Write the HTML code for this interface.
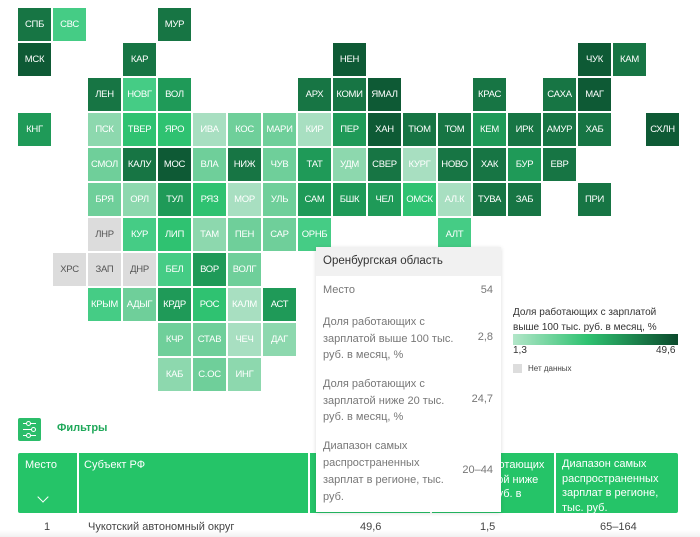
<!DOCTYPE html>
<html><head><meta charset="utf-8"><style>
body{margin:0;width:700px;height:537px;background:#fff;position:relative;overflow:hidden;font-family:"Liberation Sans","DejaVu Sans",sans-serif}
.t{position:absolute;width:33px;height:33px;color:#fff;font-size:9.5px;line-height:33px;text-align:center;letter-spacing:-0.3px}
.d1{background:#0e5a35}.d2{background:#177544}.m{background:#1f9a58}.b{background:#2fc271}.b2{background:#45cc85}
.l{background:#6fcf9a}.l2{background:#8dd8ae}.vl{background:#a8dfc1}.g{background:#dcdcdc;color:#555}
.a{position:absolute;white-space:nowrap}
.tt{font-size:11px;color:#777}
.h{color:#fff;font-size:11px;line-height:14.5px}
</style></head><body>
<div class="t d2" style="left:18px;top:8px">СПБ</div>
<div class="t b2" style="left:53px;top:8px">СВС</div>
<div class="t d2" style="left:158px;top:8px">МУР</div>
<div class="t d1" style="left:18px;top:43px">МСК</div>
<div class="t d2" style="left:123px;top:43px">КАР</div>
<div class="t d1" style="left:333px;top:43px">НЕН</div>
<div class="t d1" style="left:578px;top:43px">ЧУК</div>
<div class="t d2" style="left:613px;top:43px">КАМ</div>
<div class="t d2" style="left:88px;top:78px">ЛЕН</div>
<div class="t b2" style="left:123px;top:78px">НОВГ</div>
<div class="t m" style="left:158px;top:78px">ВОЛ</div>
<div class="t d2" style="left:298px;top:78px">АРХ</div>
<div class="t d2" style="left:333px;top:78px">КОМИ</div>
<div class="t d1" style="left:368px;top:78px">ЯМАЛ</div>
<div class="t d2" style="left:473px;top:78px">КРАС</div>
<div class="t d2" style="left:543px;top:78px">САХА</div>
<div class="t d1" style="left:578px;top:78px">МАГ</div>
<div class="t m" style="left:18px;top:113px">КНГ</div>
<div class="t l2" style="left:88px;top:113px">ПСК</div>
<div class="t b" style="left:123px;top:113px">ТВЕР</div>
<div class="t b" style="left:158px;top:113px">ЯРО</div>
<div class="t vl" style="left:193px;top:113px">ИВА</div>
<div class="t l" style="left:228px;top:113px">КОС</div>
<div class="t l" style="left:263px;top:113px">МАРИ</div>
<div class="t vl" style="left:298px;top:113px">КИР</div>
<div class="t m" style="left:333px;top:113px">ПЕР</div>
<div class="t d1" style="left:368px;top:113px">ХАН</div>
<div class="t d2" style="left:403px;top:113px">ТЮМ</div>
<div class="t d2" style="left:438px;top:113px">ТОМ</div>
<div class="t m" style="left:473px;top:113px">КЕМ</div>
<div class="t d2" style="left:508px;top:113px">ИРК</div>
<div class="t d2" style="left:543px;top:113px">АМУР</div>
<div class="t d2" style="left:578px;top:113px">ХАБ</div>
<div class="t d1" style="left:646px;top:113px">СХЛН</div>
<div class="t l" style="left:88px;top:148px">СМОЛ</div>
<div class="t d2" style="left:123px;top:148px">КАЛУ</div>
<div class="t d1" style="left:158px;top:148px">МОС</div>
<div class="t l" style="left:193px;top:148px">ВЛА</div>
<div class="t d2" style="left:228px;top:148px">НИЖ</div>
<div class="t l" style="left:263px;top:148px">ЧУВ</div>
<div class="t m" style="left:298px;top:148px">ТАТ</div>
<div class="t l2" style="left:333px;top:148px">УДМ</div>
<div class="t d2" style="left:368px;top:148px">СВЕР</div>
<div class="t vl" style="left:403px;top:148px">КУРГ</div>
<div class="t d2" style="left:438px;top:148px">НОВО</div>
<div class="t d2" style="left:473px;top:148px">ХАК</div>
<div class="t m" style="left:508px;top:148px">БУР</div>
<div class="t d2" style="left:543px;top:148px">ЕВР</div>
<div class="t l" style="left:88px;top:183px">БРЯ</div>
<div class="t l2" style="left:123px;top:183px">ОРЛ</div>
<div class="t m" style="left:158px;top:183px">ТУЛ</div>
<div class="t b" style="left:193px;top:183px">РЯЗ</div>
<div class="t vl" style="left:228px;top:183px">МОР</div>
<div class="t l" style="left:263px;top:183px">УЛЬ</div>
<div class="t m" style="left:298px;top:183px">САМ</div>
<div class="t m" style="left:333px;top:183px">БШК</div>
<div class="t m" style="left:368px;top:183px">ЧЕЛ</div>
<div class="t b" style="left:403px;top:183px">ОМСК</div>
<div class="t vl" style="left:438px;top:183px">АЛ.К</div>
<div class="t d2" style="left:473px;top:183px">ТУВА</div>
<div class="t d2" style="left:508px;top:183px">ЗАБ</div>
<div class="t d2" style="left:578px;top:183px">ПРИ</div>
<div class="t g" style="left:88px;top:218px">ЛНР</div>
<div class="t b2" style="left:123px;top:218px">КУР</div>
<div class="t b" style="left:158px;top:218px">ЛИП</div>
<div class="t l2" style="left:193px;top:218px">ТАМ</div>
<div class="t l" style="left:228px;top:218px">ПЕН</div>
<div class="t l" style="left:263px;top:218px">САР</div>
<div class="t b2" style="left:298px;top:218px">ОРНБ</div>
<div class="t b2" style="left:438px;top:218px">АЛТ</div>
<div class="t g" style="left:53px;top:253px">ХРС</div>
<div class="t g" style="left:88px;top:253px">ЗАП</div>
<div class="t g" style="left:123px;top:253px">ДНР</div>
<div class="t b2" style="left:158px;top:253px">БЕЛ</div>
<div class="t m" style="left:193px;top:253px">ВОР</div>
<div class="t l" style="left:228px;top:253px">ВОЛГ</div>
<div class="t b2" style="left:88px;top:288px">КРЫМ</div>
<div class="t l" style="left:123px;top:288px">АДЫГ</div>
<div class="t m" style="left:158px;top:288px">КРДР</div>
<div class="t b" style="left:193px;top:288px">РОС</div>
<div class="t vl" style="left:228px;top:288px">КАЛМ</div>
<div class="t m" style="left:263px;top:288px">АСТ</div>
<div class="t l" style="left:158px;top:323px">КЧР</div>
<div class="t l" style="left:193px;top:323px">СТАВ</div>
<div class="t vl" style="left:228px;top:323px">ЧЕЧ</div>
<div class="t l2" style="left:263px;top:323px">ДАГ</div>
<div class="t l2" style="left:158px;top:358px">КАБ</div>
<div class="t l" style="left:193px;top:358px">С.ОС</div>
<div class="t l2" style="left:228px;top:358px">ИНГ</div>

<div class="a" style="left:513px;top:305px;font-size:10px;line-height:15px;color:#333">Доля работающих с зарплатой<br>выше 100 тыс. руб. в месяц, %</div>
<div class="a" style="left:513px;top:334px;width:165px;height:11px;background:linear-gradient(90deg,#b3e6c9,#2fc271 45%,#0b4a2c)"></div>
<div class="a" style="left:513px;top:345px;font-size:10px;color:#333">1,3</div>
<div class="a" style="left:656px;top:345px;font-size:10px;color:#333">49,6</div>
<div class="a" style="left:513px;top:364px;width:9px;height:9px;background:#ddd"></div>
<div class="a" style="left:528px;top:364px;font-size:8px;color:#444">Нет данных</div>

<div class="a" style="left:18px;top:418px;width:23px;height:23px;background:#2bbd6a;border-radius:2px"></div>
<div class="a" style="left:23px;top:423px;width:13px;height:1px;background:#fff"></div>
<div class="a" style="left:23px;top:429px;width:13px;height:1px;background:#fff"></div>
<div class="a" style="left:23px;top:435px;width:13px;height:1px;background:#fff"></div>
<div class="a" style="left:26px;top:421px;width:3px;height:3px;border:1px solid #fff;border-radius:50%;background:#2bbd6a"></div>
<div class="a" style="left:31px;top:427px;width:3px;height:3px;border:1px solid #fff;border-radius:50%;background:#2bbd6a"></div>
<div class="a" style="left:26px;top:433px;width:3px;height:3px;border:1px solid #fff;border-radius:50%;background:#2bbd6a"></div>
<div class="a" style="left:57px;top:422px;font-size:11px;font-weight:bold;color:#1fa85a">Фильтры</div>

<div class="a" style="left:18px;top:453px;width:660px;height:60px;background:#25c468;border-radius:2px"></div>
<div class="a" style="left:77px;top:453px;width:2px;height:60px;background:#fff"></div>
<div class="a" style="left:308px;top:453px;width:2px;height:60px;background:#fff"></div>
<div class="a" style="left:430px;top:453px;width:2px;height:60px;background:#fff"></div>
<div class="a" style="left:554px;top:453px;width:2px;height:60px;background:#fff"></div>
<div class="a h" style="left:25px;top:458px">Место</div>
<div class="a" style="left:39px;top:493px;width:7px;height:7px;border-right:1px solid #fff;border-bottom:1px solid #fff;transform:rotate(45deg)"></div>
<div class="a h" style="left:84px;top:458px">Субъект РФ</div>
<div class="a h" style="left:480px;top:458px">работающих<br>латой ниже<br>с. руб. в</div>
<div class="a h" style="left:562px;top:457px">Диапазон самых<br>распространенных<br>зарплат в регионе,<br>тыс. руб.</div>
<div class="a" style="left:0;top:515px;width:700px;height:22px;background:linear-gradient(#fff 70%,#f0f0f0)"></div>
<div class="a" style="left:44px;top:521px;font-size:11px;color:#444">1</div>
<div class="a" style="left:88px;top:521px;font-size:11px;color:#444">Чукотский автономный округ</div>
<div class="a" style="left:360px;top:521px;font-size:11px;color:#444">49,6</div>
<div class="a" style="left:480px;top:521px;font-size:11px;color:#444">1,5</div>
<div class="a" style="left:600px;top:521px;font-size:11px;color:#444">65–164</div>

<div class="a" style="left:316px;top:247px;width:185px;height:265px;background:#fff;box-shadow:0 1px 4px rgba(0,0,0,0.15)">
 <div style="height:29px;background:#f1f1f1;font-size:11.5px;color:#333;line-height:29px;padding-left:7px">Оренбургская область</div>
 <div class="a tt" style="left:7px;top:37px">Место</div><div class="a tt" style="right:8px;top:37px">54</div>
 <div class="a tt" style="left:7px;top:67px;line-height:16.5px">Доля работающих с<br>зарплатой выше 100 тыс.<br>руб. в месяц, %</div><div class="a tt" style="right:8px;top:84px">2,8</div>
 <div class="a tt" style="left:7px;top:129px;line-height:16.5px">Доля работающих с<br>зарплатой ниже 20 тыс.<br>руб. в месяц, %</div><div class="a tt" style="right:8px;top:146px">24,7</div>
 <div class="a tt" style="left:7px;top:191px;line-height:17px">Диапазон самых<br>распространенных<br>зарплат в регионе, тыс.<br>руб.</div><div class="a tt" style="right:8px;top:217px">20–44</div>
</div>
</body></html>
